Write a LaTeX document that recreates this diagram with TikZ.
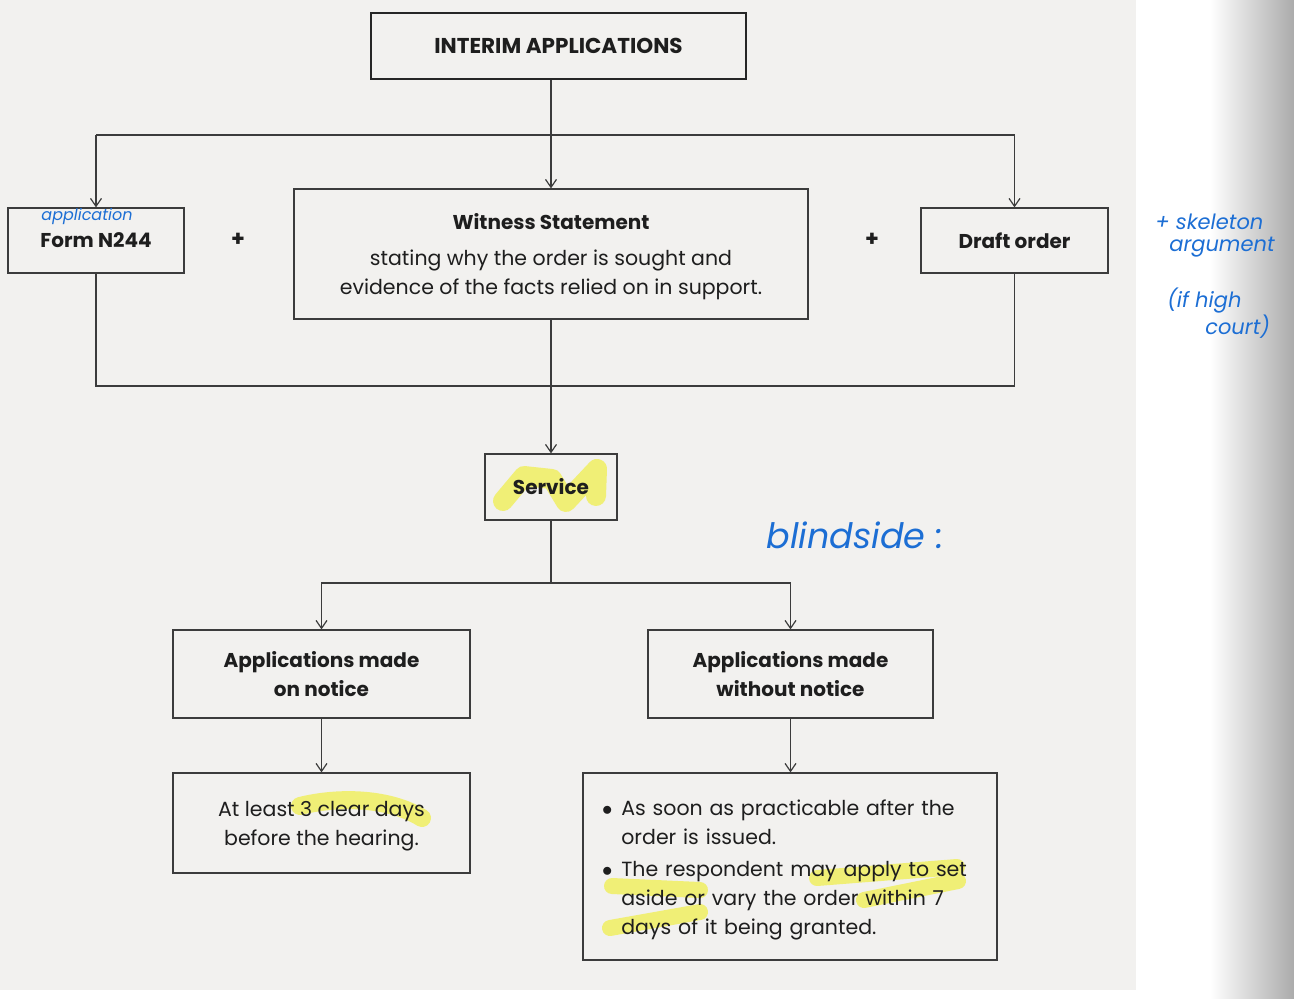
\documentclass[tikz,border=0pt]{standalone}
\usepackage{fontspec}
\setmainfont{Poppins}
\usepackage{tikz}
\usetikzlibrary{positioning, arrows.meta}
\definecolor{paper}{RGB}{242, 241, 239}
\definecolor{boxline}{RGB}{60, 60, 60}
\definecolor{inktext}{RGB}{30, 30, 30}
\definecolor{penblue}{RGB}{28, 110, 212}
\definecolor{marker}{RGB}{240, 239, 118}

\begin{document}
\begin{tikzpicture}[x=1pt, y=-1pt,
  box/.style={draw=boxline, line width=1.2pt, text=inktext, align=center, inner sep=0pt,
    font=\fontsize{20.5}{29}\selectfont},
  headbox/.style={box, draw=black!85, line width=2.4pt, font=\fontsize{21.5}{29}\selectfont\bfseries},
  conn/.style={draw=boxline, line width=1.2pt},
  arr/.style={conn, -{Straight Barb[length=8pt, width=11pt]}},
  pen/.style={text=penblue, font=\itshape},
  hilite/.style={draw=marker, line width=16pt, line cap=round, line join=round}]
\useasboundingbox (0,0) rectangle (1294,999);
\fill[paper] (0,0) rectangle (1136,990);
\shade[left color=white, right color=black!33] (1210,0) rectangle (1294,999);

\draw[hilite, line width=20pt] (503,501) -- (524,476) -- (552,479) -- (566,502) -- (597,469) -- (596,496);
\draw[hilite, line width=18pt] (300,806) .. controls (340,796) and (390,798) .. (422,818);
\draw[hilite] (817,878) -- (957,867);
\draw[hilite] (612,886) -- (700,890);
\draw[hilite] (864,900) -- (958,881);
\draw[hilite] (610,928) -- (700,912);

\node[headbox, minimum width=375, minimum height=66] (title) at (558.5,46) {INTERIM APPLICATIONS};
\node[box, minimum width=176, minimum height=65] (form) at (96,240.5) {\fontsize{20}{29}\selectfont\bfseries Form N244};
\node[box, minimum width=514, minimum height=130] (witness) at (551,254)
  {\rule{0pt}{22pt}{\fontsize{20}{29}\selectfont\bfseries Witness Statement}\\[7pt]stating why the order is sought and\\evidence of the facts relied on in support.};
\node[box, minimum width=187, minimum height=65] (draft) at (1014.5,240.5) {\fontsize{20}{29}\selectfont\bfseries Draft order};
\node[text=inktext, font=\fontsize{22}{24}\selectfont\bfseries] (plusa) at (238,240) {+};
\node[text=inktext, font=\fontsize{22}{24}\selectfont\bfseries] (plusb) at (872,240) {+};
\node[box, minimum width=132, minimum height=66] (service) at (551,487) {\fontsize{20}{29}\selectfont\bfseries Service};
\node[box, minimum width=297, minimum height=88, font=\fontsize{20}{29}\selectfont\bfseries] (onnotice) at (321.5,674) {Applications made\\on notice};
\node[box, minimum width=285, minimum height=88, font=\fontsize{20}{29}\selectfont\bfseries] (without) at (790.5,674) {Applications made\\without notice};
\node[box, minimum width=297, minimum height=100] (atleast) at (321.5,823) {\rule{0pt}{22pt}At least 3 clear days\\before the hearing.};
\node[box, minimum width=414, minimum height=187, text width=376, align=left] (bullets) at (790,866.5)
  {\raisebox{-3pt}[\height][\depth]{\begin{tabular}{@{}l@{\hspace{9pt}}l@{}}
   $\bullet$ & As soon as practicable after the\\
             & order is issued.\\[3pt]
   $\bullet$ & The respondent may apply to set\\
             & aside or vary the order within 7\\
             & days of it being granted.
   \end{tabular}}};

\coordinate (split) at (551,135);
\coordinate (join) at (551,386);
\coordinate (fork) at (551,583);
\draw[arr] (witness.north |- title.south) -- (witness.north);
\draw[conn] (split -| form.north) -- (split -| draft.north);
\draw[arr] (split -| form.north) -- (form.north);
\draw[arr] (split -| draft.north) -- (draft.north);
\draw[conn] (form.south) |- (join);
\draw[conn] (draft.south) |- (join);
\draw[arr] (witness.south) -- (service.north);
\draw[conn] (service.south) -- (fork);
\draw[arr] (fork) -| (onnotice.north);
\draw[arr] (fork) -| (without.north);
\draw[arr] (onnotice.south) -- (atleast.north);
\draw[arr] (without.south) -- (without.south |- bullets.north);

\node[pen, font=\fontsize{16}{16}\selectfont\itshape] (penform) at (87,216) {application};
\node[pen, font=\fontsize{21}{22}\selectfont\itshape, align=left] (penskel) at (1215,276)
  {+ skeleton\\\hspace{14pt}argument\\[30pt]\hspace{12pt}(if high\\\hspace{50pt}court)};
\node[pen, font=\fontsize{35}{36}\selectfont\itshape] (penblind) at (855,535) {blindside :};
\end{tikzpicture}
\end{document}
